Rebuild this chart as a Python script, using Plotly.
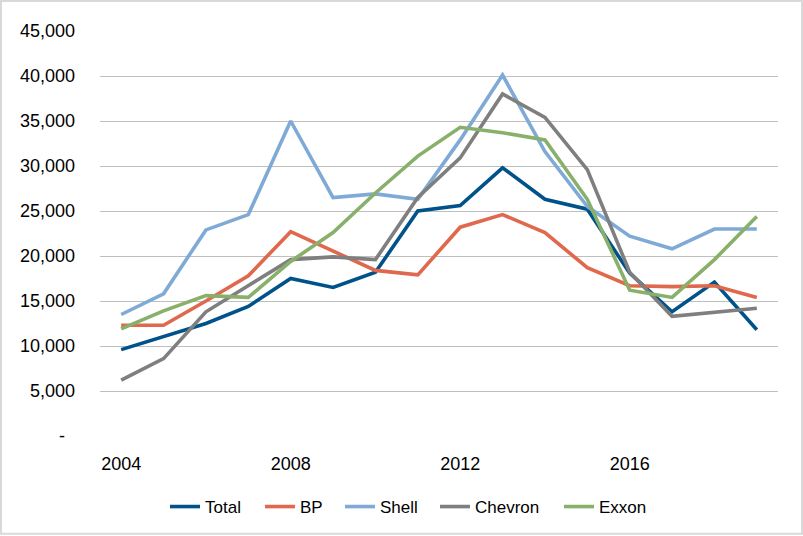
import plotly.graph_objects as go

years = [str(y) for y in range(2004, 2020)]
total = [9600, 11000, 12500, 14400, 17500, 16500, 18200, 25000, 25600, 29800, 26300, 25200, 18100, 13800, 17100, 11800]
bp = [12300, 12300, 15000, 17800, 22700, 20600, 18400, 17900, 23200, 24600, 22600, 18700, 16700, 16600, 16700, 15400]
shell = [13500, 15800, 22900, 24600, 35000, 26500, 26900, 26300, 32900, 40100, 31600, 25500, 22200, 20800, 23000, 23000]
chevron = [6200, 8600, 13800, 16700, 19600, 19900, 19600, 26500, 30900, 38000, 35400, 29600, 18200, 13300, 13800, 14200]
exxon = [11900, 13900, 15600, 15400, 19400, 22600, 27000, 31100, 34300, 33700, 32900, 26300, 16200, 15400, 19600, 24400]

series_names = ["Total", "BP", "Shell", "Chevron", "Exxon"]
series_vals = [total, bp, shell, chevron, exxon]
colors = ["#00528A", "#E0694D", "#7FAAD6", "#7F7F7F", "#88B06A"]

ytick_vals = [0, 5000, 10000, 15000, 20000, 25000, 30000, 35000, 40000, 45000]
ytick_text = ["-\u00a0\u00a0", "5,000", "10,000", "15,000", "20,000", "25,000", "30,000", "35,000", "40,000", "45,000"]
xtick_vals = ["2004", "2008", "2012", "2016"]

# left pixel of each legend entry (text begins ~40px later)
legend_px = [165, 260, 340, 435, 559]

W, H = 803, 536
L, R, T, B = 100, 25, 31, 99
pw, ph = W - L - R, H - T - B

fig = go.Figure()
legend_layouts = {}
for i, (name, vals, c, lx) in enumerate(zip(series_names, series_vals, colors, legend_px)):
    key = "legend" if i == 0 else f"legend{i + 1}"
    fig.add_trace(go.Scatter(x=years, y=vals, name=name, mode="lines",
                             line=dict(color=c, width=3.6), legend=key))
    legend_layouts[key] = dict(orientation="h", x=(lx - L) / pw, xanchor="left",
                               y=-(507 - (H - B)) / ph, yanchor="middle", font=dict(size=17),
                               bgcolor="rgba(0,0,0,0)", borderwidth=0)

fig.update_layout(
    width=W, height=H,
    margin=dict(l=L, r=R, t=T, b=B),
    paper_bgcolor="white", plot_bgcolor="white",
    font=dict(family="Liberation Sans, Arial, sans-serif", size=18, color="#000000"),
    showlegend=True,
    xaxis=dict(type="category", tickmode="array", tickvals=xtick_vals,
               showgrid=False, showline=False, zeroline=False, ticks="",
               ticklabelstandoff=15, range=[-0.5, 15.5]),
    yaxis=dict(range=[0, 45000], tickmode="array", tickvals=ytick_vals, ticktext=ytick_text,
               showgrid=True, gridcolor="#BFBFBF", gridwidth=1.3, zeroline=False,
               showline=False, ticks="", ticklabelstandoff=24),
    shapes=[dict(type="rect", xref="paper", yref="paper",
                 x0=-(L - 1) / pw, x1=1 + (R - 1) / pw,
                 y0=-(B - 1) / ph, y1=1 + (T - 1) / ph,
                 line=dict(color="#D9D9D9", width=2), layer="below")],
    **legend_layouts,
)

fig.write_html("out.html", config={"displayModeBar": False},
               post_script="document.body.style.margin='0';document.body.style.padding='0';")
